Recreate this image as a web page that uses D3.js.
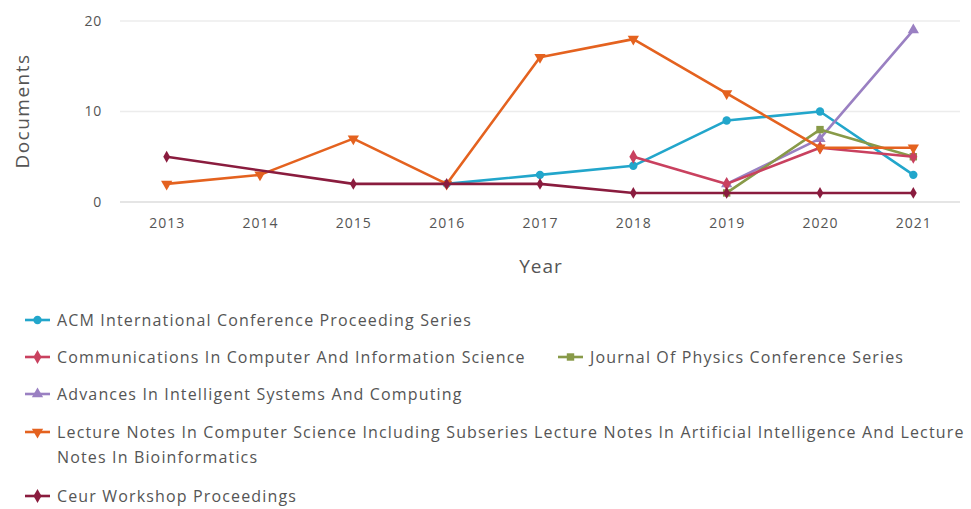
<!DOCTYPE html>
<html><head><meta charset="utf-8">
<script src="https://cdn.jsdelivr.net/npm/d3@7"></script>
<style>body{margin:0;background:#fff;}svg{display:block;font-family:"Open Sans",sans-serif;}</style>
</head><body><svg id="c" width="971" height="509"></svg>
<script>
const years = [2013, 2014, 2015, 2016, 2017, 2018, 2019, 2020, 2021];
const yTicks = [0, 10, 20];
const seriesNames = [
  "ACM International Conference Proceeding Series",
  "Communications In Computer And Information Science",
  "Journal Of Physics Conference Series",
  "Advances In Intelligent Systems And Computing",
  "Lecture Notes In Computer Science Including Subseries Lecture Notes In Artificial Intelligence And Lecture Notes In Bioinformatics",
  "Ceur Workshop Proceedings"
];
const acm   = [null, null, null, 2, 3, 4, 9, 10, 3];
const ccis  = [null, null, null, null, null, 5, 2, 6, 5];
const jpcs  = [null, null, null, null, null, null, 1, 8, 5];
const aisc  = [null, null, null, null, null, null, 2, 7, 19];
const lncs  = [2, 3, 7, 2, 16, 18, 12, 6, 6];
const ceur  = [5, null, 2, 2, 2, 1, 1, 1, 1];
const seriesValues = [acm, ccis, jpcs, aisc, lncs, ceur];
const colors = ["#22a6cb", "#c9415f", "#889a48", "#9a80c2", "#e4621f", "#8a1c3e"];
const symbols = [d3.symbolCircle, d3.symbolDiamond, d3.symbolSquare, d3.symbolTriangle, d3.symbolTriangle, d3.symbolDiamond];
const rotations = [0, 0, 0, 0, 180, 0];
const drawOrder = [0, 3, 2, 1, 4, 5];

const svg = d3.select("#c");
const x = d3.scalePoint().domain(years).range([120, 960]).padding(0.5);
const y = d3.scaleLinear().domain([0, 20]).range([202, 21]);

// grid
svg.append("g").selectAll("line").data(yTicks).join("line")
  .attr("x1", 120).attr("x2", 960)
  .attr("y1", d => y(d)).attr("y2", d => y(d))
  .attr("stroke", d => d === 0 ? "#dcdcdc" : "#ececec").attr("stroke-width", 1.5);

// y axis labels
const yAxis = d3.axisLeft(y).tickValues(yTicks).tickSize(0).tickPadding(0);
const gy = svg.append("g").attr("transform", "translate(102,0)").call(yAxis);
gy.select(".domain").remove();
gy.selectAll("text").attr("fill", "#555").style("font-size", "14px").style("letter-spacing", "0.8px").style("font-family", "'Open Sans',sans-serif");

// x axis labels
const xAxis = d3.axisBottom(x).tickSize(0).tickPadding(0);
const gx = svg.append("g").attr("transform", "translate(0,218)").call(xAxis);
gx.select(".domain").remove();
gx.selectAll("text").attr("fill", "#555").style("font-size", "14px").style("letter-spacing", "1px").style("font-family", "'Open Sans',sans-serif");

svg.append("text").attr("x", 541).attr("y", 273).attr("text-anchor", "middle")
  .attr("fill", "#555").style("font-size", "19px").style("letter-spacing", "1px").text("Year");
svg.append("text").attr("transform", "translate(29,111) rotate(-90)").attr("text-anchor", "middle")
  .attr("fill", "#555").style("font-size", "19px").style("letter-spacing", "1.5px").text("Documents");

// lines
const line = d3.line().defined(d => d.v !== null).x(d => x(d.year)).y(d => y(d.v));
drawOrder.forEach(i => {
  const pts = years.map((yr, k) => ({year: yr, v: seriesValues[i][k]})).filter(d => d.v !== null);
  svg.append("path").datum(pts).attr("d", line).attr("fill", "none")
    .attr("stroke", colors[i]).attr("stroke-width", 2.6).attr("stroke-linejoin", "round");
  svg.append("g").selectAll("path").data(pts).join("path")
    .attr("d", d3.symbol().type(symbols[i]).size(i === 5 ? 40 : 55))
    .attr("transform", d => `translate(${x(d.year)},${y(d.v)}) rotate(${rotations[i]})`)
    .attr("fill", colors[i]);
});

// legend
const legendPos = [
  {x: 25, y: 320}, {x: 25, y: 357}, {x: 558, y: 357}, {x: 25, y: 394}, {x: 25, y: 432}, {x: 25, y: 496}
];
const lg = svg.append("g").style("font-size", "16px").style("letter-spacing", "1.15px").attr("fill", "#555");
seriesNames.forEach((name, i) => {
  const p = legendPos[i];
  lg.append("line").attr("x1", p.x).attr("x2", p.x + 25).attr("y1", p.y).attr("y2", p.y)
    .attr("stroke", colors[i]).attr("stroke-width", 2.6);
  lg.append("path").attr("d", d3.symbol().type(symbols[i]).size(55))
    .attr("transform", `translate(${p.x + 12.5},${p.y}) rotate(${rotations[i]})`).attr("fill", colors[i]);
  const t = lg.append("text").attr("x", p.x + 32).attr("y", p.y + 5.5);
  if (i === 4) {
    t.append("tspan").attr("x", p.x + 32).text("Lecture Notes In Computer Science Including Subseries Lecture Notes In Artificial Intelligence And Lecture");
    t.append("tspan").attr("x", p.x + 32).attr("dy", 25).text("Notes In Bioinformatics");
  } else {
    t.text(name);
  }
});
</script>
</body></html>
